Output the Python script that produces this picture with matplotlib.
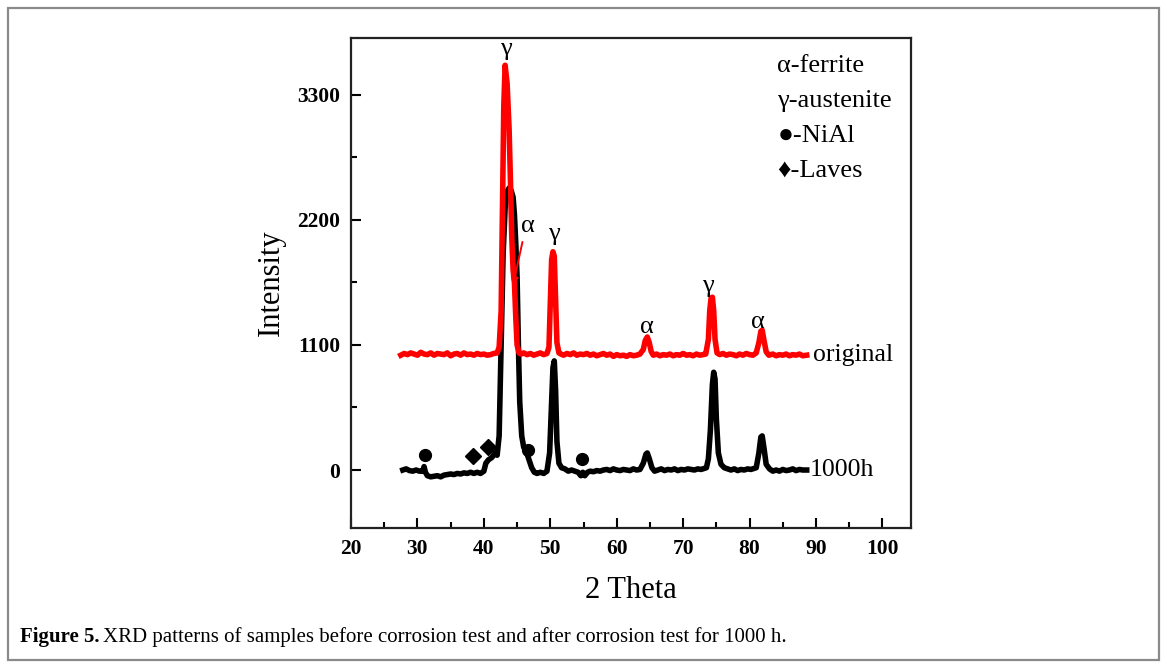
import matplotlib
matplotlib.use("Agg")
import matplotlib.pyplot as plt
from matplotlib.patches import Rectangle
from matplotlib.ticker import MultipleLocator

plt.rcParams['font.family'] = ['Liberation Serif', 'DejaVu Serif']

# ---- data: original sample (red) ----
orig_2theta = [27.5, 28.0, 28.5, 29.0, 29.5, 30.0, 30.5, 31.0, 31.5, 32.0, 32.5, 33.0, 33.5, 34.0,
               34.5, 35.0, 35.5, 36.0, 36.5, 37.0, 37.5, 38.0, 38.5, 39.0, 39.5, 40.0, 40.5, 41.0,
               41.5, 42.0, 42.3, 42.6, 42.8, 43.0, 43.2, 43.5, 43.8, 44.0, 44.2, 44.4, 44.6, 44.8,
               45.0, 45.3, 45.6, 46.0, 46.5, 47.0, 47.5, 48.0, 48.5, 49.0, 49.5, 49.8, 50.0, 50.2,
               50.4, 50.6, 50.8, 51.0, 51.3, 51.6, 52.0, 52.5, 53.0, 53.5, 54.0, 54.5, 55.0, 55.5,
               56.0, 56.5, 57.0, 57.5, 58.0, 58.5, 59.0, 59.5, 60.0, 60.5, 61.0, 61.5, 62.0, 62.5,
               63.0, 63.5, 64.0, 64.3, 64.6, 64.9, 65.2, 65.5, 66.0, 66.5, 67.0, 67.5, 68.0, 68.5,
               69.0, 69.5, 70.0, 70.5, 71.0, 71.5, 72.0, 72.5, 73.0, 73.4, 73.8, 74.0, 74.2, 74.4,
               74.6, 74.8, 75.1, 75.5, 76.0, 76.5, 77.0, 77.5, 78.0, 78.5, 79.0, 79.5, 80.0, 80.5,
               81.0, 81.4, 81.7, 81.9, 82.2, 82.5, 82.9, 83.5, 84.0, 84.5, 85.0, 85.5, 86.0, 86.5,
               87.0, 87.5, 88.0, 88.6]
orig_int = [1010, 1025, 1015, 1030, 1020, 1010, 1035, 1020, 1015, 1030, 1010, 1025, 1020, 1015,
            1030, 1005, 1020, 1025, 1010, 1030, 1015, 1020, 1010, 1025, 1015, 1020, 1010, 1015,
            1025, 1030, 1080, 1400, 2300, 3200, 3560, 3400, 3000, 2550, 2050, 1760, 1650, 1350,
            1100, 1030, 1020, 1030, 1015, 1025, 1010, 1020, 1030, 1015, 1025, 1080, 1450, 1850,
            1920, 1880, 1500, 1120, 1030, 1020, 1010, 1025, 1015, 1030, 1010, 1020, 1015, 1025,
            1010, 1020, 1005, 1015, 1025, 1010, 1020, 1000, 1015, 1005, 1010, 1000, 1015, 1005,
            1010, 1020, 1060, 1140, 1170, 1120, 1040, 1010, 1020, 1005, 1015, 1010, 1020, 1005,
            1015, 1010, 1025, 1010, 1015, 1005, 1020, 1010, 1015, 1020, 1150, 1400, 1510, 1520,
            1400, 1150, 1030, 1015, 1025, 1010, 1020, 1015, 1005, 1020, 1010, 1025, 1015, 1010,
            1030, 1120, 1220, 1230, 1130, 1040, 1010, 1020, 1005, 1015, 1010, 1020, 1005, 1015,
            1010, 1020, 1005, 1010]

# ---- data: after 1000 h (black) ----
h1000_2theta = [27.8, 28.3, 28.8, 29.3, 29.8, 30.3, 30.8, 31.0, 31.2, 31.5, 32.0, 32.5, 33.0, 33.5,
                34.0, 34.5, 35.0, 35.5, 36.0, 36.5, 37.0, 37.5, 38.0, 38.5, 39.0, 39.5, 40.0, 40.3,
                40.7, 41.2, 41.7, 42.0, 42.3, 42.6, 42.9, 43.2, 43.5, 43.8, 44.1, 44.4, 44.6, 44.8,
                45.0, 45.2, 45.4, 45.7, 46.0, 46.4, 46.8, 47.2, 47.6, 48.0, 48.5, 49.0, 49.5, 49.9,
                50.2, 50.4, 50.6, 50.8, 51.0, 51.3, 51.7, 52.2, 52.7, 53.2, 53.7, 54.2, 54.6, 54.9,
                55.2, 55.6, 56.0, 56.5, 57.0, 57.5, 58.0, 58.5, 59.0, 59.5, 60.0, 60.5, 61.0, 61.5,
                62.0, 62.5, 63.0, 63.5, 64.0, 64.4, 64.6, 64.9, 65.3, 65.7, 66.2, 66.7, 67.2, 67.7,
                68.2, 68.7, 69.2, 69.7, 70.2, 70.7, 71.2, 71.7, 72.2, 72.7, 73.2, 73.5, 73.8, 74.1,
                74.4, 74.6, 74.8, 75.0, 75.3, 75.7, 76.2, 76.7, 77.2, 77.7, 78.2, 78.7, 79.2, 79.7,
                80.2, 80.7, 81.0, 81.4, 81.7, 81.9, 82.2, 82.5, 83.0, 83.5, 84.0, 84.5, 85.0, 85.5,
                86.0, 86.5, 87.0, 87.5, 88.0, 88.6]
h1000_int = [0, 10, -5, -10, 0, -10, -10, 30, -20, -50, -60, -55, -50, -60,
             -45, -40, -35, -40, -30, -35, -25, -30, -20, -30, -20, -30, -10, 60,
             90, 110, 150, 130, 300, 1100, 1900, 2300, 2450, 2480, 2460, 2400, 2250, 2000,
             1700, 1100, 600, 300, 200, 160, 90, 20, -20, -30, -20, -30, -10, 150,
             600, 900, 960, 700, 250, 60, 20, 10, -10, 0, -10, -20, -50, -20,
             -50, -20, -10, -15, -5, -10, 0, 5, -5, 10, 0, -5, 5, 0,
             -5, 10, 0, 5, 60, 140, 150, 100, 20, -10, 0, 10, -5, 5,
             0, 10, -5, 5, 0, 10, 5, 0, 10, 5, 15, 20, 100, 350,
             750, 860, 800, 450, 150, 50, 20, 10, 0, 10, -5, 5, 0, 10,
             5, 15, 20, 150, 290, 300, 180, 50, 10, -10, 0, -10, 5, -5,
             0, 10, -5, 5, 0, 0]

nial_2theta = [31.1, 46.6, 54.7]
nial_int = [130, 175, 100]
laves_2theta = [38.3, 40.6]
laves_int = [125, 200]

peak_labels = ['γ', 'α', 'γ', 'α', 'γ', 'α']
peak_label_2theta = [43.3, 46.6, 50.6, 64.5, 73.8, 81.3]
peak_label_int = [3700, 2150, 2080, 1260, 1620, 1300]

legend_lines = ['α-ferrite', 'γ-austenite', '●-NiAl', '♦-Laves']

fig = plt.figure(figsize=(11.68, 6.67), dpi=100)
ax = fig.add_axes([351/1168, 1 - 528/667, 560/1168, 490/667])

ax.plot(h1000_2theta, h1000_int, color='black', lw=4.0, solid_joinstyle='round', zorder=2)
ax.plot(orig_2theta, orig_int, color='red', lw=4.0, solid_joinstyle='round', zorder=3)

ax.plot(nial_2theta, nial_int, 'o', color='black', ms=8.5, zorder=4)
ax.plot(laves_2theta, laves_int, 'D', color='black', ms=8.5, zorder=4)

for t, x, y in zip(peak_labels, peak_label_2theta, peak_label_int):
    ax.text(x, y, t, fontsize=19, ha='center', va='center')

ax.annotate('', xy=(44.3, 1600), xytext=(45.9, 2030),
            arrowprops=dict(arrowstyle='-|>', color='red', lw=1.4, mutation_scale=11), zorder=5)

ax.text(89.6, 1010, 'original', fontsize=18.5, ha='left', va='center')
ax.text(89.0, 0, '1000h', fontsize=18.5, ha='left', va='center')

for i, s in enumerate(legend_lines):
    ax.text(84.2, 3555 - i * 308, s, fontsize=19, ha='left', va='center',
            family=['Liberation Serif', 'DejaVu Sans'])

ax.set_xlim(20, 104.3)
ax.set_ylim(-510, 3800)
ax.xaxis.set_major_locator(MultipleLocator(10))
ax.xaxis.set_minor_locator(MultipleLocator(5))
ax.set_yticks([0, 1100, 2200, 3300])
ax.yaxis.set_minor_locator(MultipleLocator(550))
ax.tick_params(which='both', direction='in', top=False, right=False, width=1.5)
ax.tick_params(which='major', length=7, labelsize=15.5, pad=8)
ax.tick_params(which='minor', length=4)
for lab in ax.get_xticklabels() + ax.get_yticklabels():
    lab.set_fontweight('bold')
for sp in ax.spines.values():
    sp.set_linewidth(1.6)
    sp.set_color('#222222')

ax.set_xlabel('2 Theta', fontsize=22, labelpad=12)
ax.set_ylabel('Intensity', fontsize=22, labelpad=8)

# outer frame
fig.patches.append(Rectangle((8/1168, 7/667), 1151/1168, 652/667, transform=fig.transFigure,
                             fill=False, edgecolor='#8a8a8a', lw=1.6))

fig.text(20/1168, 1 - 637/667, 'Figure 5.', fontsize=15, fontweight='bold', va='center', ha='left')
fig.text(103/1168, 1 - 637/667, 'XRD patterns of samples before corrosion test and after corrosion test for 1000 h.',
         fontsize=15, va='center', ha='left')

fig.savefig('out.png', dpi=100)
